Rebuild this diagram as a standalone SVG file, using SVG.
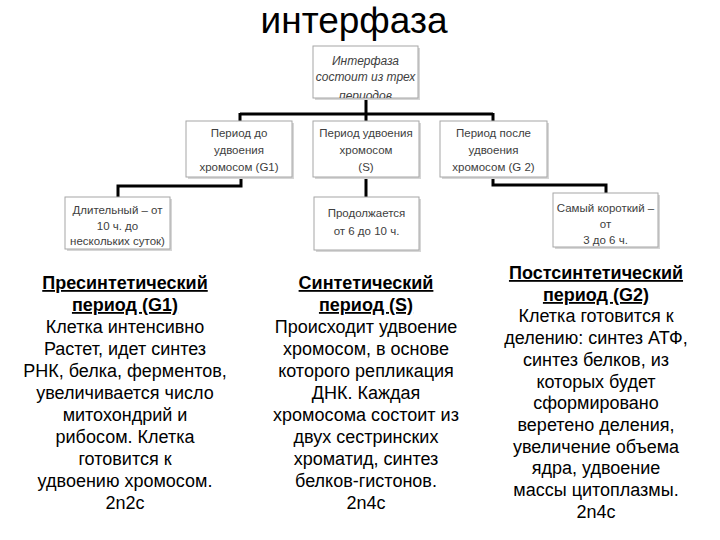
<svg xmlns="http://www.w3.org/2000/svg" width="720" height="540" viewBox="0 0 720 540">
<defs>
<style>
.box{fill:#fff;stroke:#a6a6a6;stroke-width:1}
.sh{fill:#d6d6d6}
.bt{font-family:"Liberation Sans",Arial,sans-serif;font-size:11.5px;fill:#404040;text-anchor:middle}
.it{font-style:italic;font-size:12px}
.con{fill:none;stroke:#000;stroke-width:3}
.body{font-family:"Liberation Sans",Arial,sans-serif;font-size:18px;fill:#000;text-anchor:middle}
.hd{font-weight:bold;text-decoration:underline}
</style>
<clipPath id="clipTop"><rect x="313" y="46" width="105" height="52"/></clipPath>
</defs>
<rect width="720" height="540" fill="#fff"/>
<text x="354" y="33" font-family="Liberation Sans,Arial,sans-serif" font-size="37" fill="#000" text-anchor="middle">интерфаза</text>

<g id="connectors">
<path class="con" d="M366,98 V114 M240,114 H493 M240,113 V121 M366,114 V121 M493,113 V121"/>
<path class="con" d="M241,177 V186 H118 V197"/>
<path class="con" d="M366,177 V197"/>
<path class="con" d="M493,177 V185 H606 V193"/>
</g>

<g id="node-top">
<rect class="sh" x="315" y="48" width="105" height="52"/>
<rect class="box" x="313" y="46" width="105" height="52"/>
<g clip-path="url(#clipTop)">
<text class="bt it" x="365.5" y="65">Интерфаза</text>
<text class="bt it" x="365.5" y="81">состоит из трех</text>
<text class="bt it" x="365.5" y="100">периодов</text>
</g>
</g>

<g id="node-g1">
<rect class="sh" x="188" y="123" width="106" height="56"/>
<rect class="box" x="186" y="121" width="106" height="56"/>
<text class="bt" x="239" y="137">Период до</text>
<text class="bt" x="239" y="154">удвоения</text>
<text class="bt" x="239" y="171">хромосом  (G1)</text>
</g>

<g id="node-s">
<rect class="sh" x="315" y="123" width="106" height="56"/>
<rect class="box" x="313" y="121" width="106" height="56"/>
<text class="bt" x="366" y="137">Период удвоения</text>
<text class="bt" x="366" y="154">хромосом</text>
<text class="bt" x="366" y="171">(S)</text>
</g>

<g id="node-g2">
<rect class="sh" x="442" y="123" width="107" height="56"/>
<rect class="box" x="440" y="121" width="107" height="56"/>
<text class="bt" x="493.5" y="137">Период после</text>
<text class="bt" x="493.5" y="154">удвоения</text>
<text class="bt" x="493.5" y="171">хромосом (G 2)</text>
</g>

<g id="node-g1-dur">
<rect class="sh" x="67" y="199" width="105" height="52"/>
<rect class="box" x="65" y="197" width="105" height="52"/>
<text class="bt" x="117.5" y="214">Длительный – от</text>
<text class="bt" x="117.5" y="230">10 ч. до</text>
<text class="bt" x="117.5" y="245">нескольких суток)</text>
</g>

<g id="node-s-dur">
<rect class="sh" x="316" y="199" width="105" height="53"/>
<rect class="box" x="314" y="197" width="105" height="53"/>
<text class="bt" x="366.5" y="217">Продолжается</text>
<text class="bt" x="366.5" y="235">от 6 до 10 ч.</text>
</g>

<g id="node-g2-dur">
<rect class="sh" x="555" y="195" width="105" height="54"/>
<rect class="box" x="553" y="193" width="105" height="54"/>
<text class="bt" x="605.5" y="212">Самый короткий –</text>
<text class="bt" x="605.5" y="228">от</text>
<text class="bt" x="605.5" y="244">3 до 6 ч.</text>
</g>

<g id="text-g1">
<text class="body hd" x="125" y="289">Пресинтетический</text>
<text class="body hd" x="125" y="311">период (G1)</text>
<text class="body" x="125" y="333">Клетка интенсивно</text>
<text class="body" x="125" y="355">Растет, идет синтез</text>
<text class="body" x="125" y="377">РНК, белка, ферментов,</text>
<text class="body" x="125" y="399">увеличивается число</text>
<text class="body" x="125" y="421">митохондрий и</text>
<text class="body" x="125" y="443">рибосом. Клетка</text>
<text class="body" x="125" y="465">готовится к</text>
<text class="body" x="125" y="487">удвоению хромосом.</text>
<text class="body" x="125" y="509">2n2c</text>
</g>

<g id="text-s">
<text class="body hd" x="366" y="289">Синтетический </text>
<text class="body hd" x="366" y="311">период (S)</text>
<text class="body" x="366" y="333">Происходит удвоение</text>
<text class="body" x="366" y="355">хромосом, в основе</text>
<text class="body" x="366" y="377">которого репликация</text>
<text class="body" x="366" y="399">ДНК. Каждая</text>
<text class="body" x="366" y="421">хромосома состоит из</text>
<text class="body" x="366" y="443">двух сестринских</text>
<text class="body" x="366" y="465">хроматид, синтез</text>
<text class="body" x="366" y="487">белков-гистонов.</text>
<text class="body" x="366" y="509">2n4c</text>
</g>

<g id="text-g2">
<text class="body hd" x="596" y="279">Постсинтетический</text>
<text class="body hd" x="596" y="301">период (G2)</text>
<text class="body" x="596" y="322">Клетка готовится к</text>
<text class="body" x="596" y="344">делению: синтез АТФ,</text>
<text class="body" x="596" y="366">синтез белков, из</text>
<text class="body" x="596" y="388">которых будет</text>
<text class="body" x="596" y="409">сформировано</text>
<text class="body" x="596" y="431">веретено деления,</text>
<text class="body" x="596" y="453">увеличение объема</text>
<text class="body" x="596" y="474">ядра, удвоение</text>
<text class="body" x="596" y="496">массы цитоплазмы.</text>
<text class="body" x="596" y="518">2n4c</text>
</g>
</svg>
